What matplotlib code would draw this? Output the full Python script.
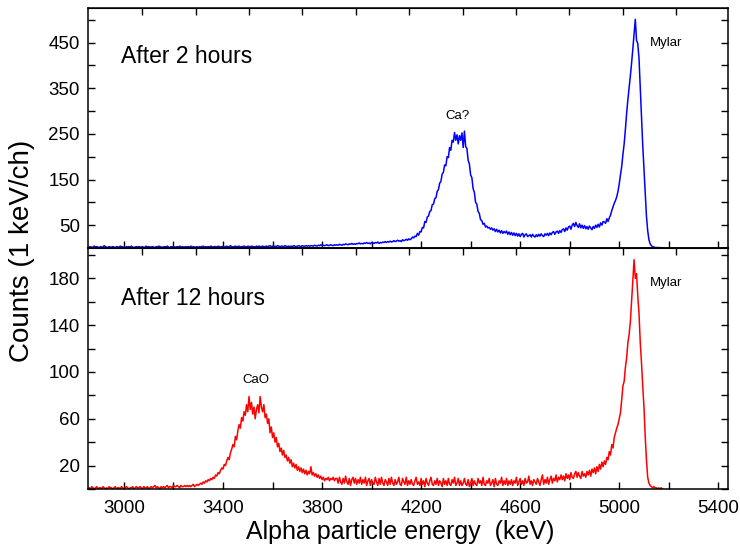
import numpy as np
import matplotlib
matplotlib.use("Agg")
import matplotlib.pyplot as plt
from matplotlib.ticker import MultipleLocator

plt.rcParams['font.family'] = ['Liberation Sans', 'DejaVu Sans']

# Spectra, 5 keV steps starting at 2860 keV
counts_2h = [
    2, 3, 1, 2, 4, 2, 3, 2, 1, 3, 2, 2, 5, 3, 2, 1, 3, 2, 2, 3,
    2, 1, 3, 2, 2, 4, 3, 2, 2, 1, 3, 2, 3, 2, 4, 2, 1, 2, 3, 2,
    3, 2, 2, 3, 1, 2, 4, 2, 3, 2, 2, 3, 2, 1, 3, 2, 4, 3, 2, 2,
    2, 3, 2, 4, 2, 1, 3, 2, 3, 2, 2, 3, 2, 4, 2, 3, 2, 2, 3, 2,
    3, 2, 4, 2, 3, 2, 2, 3, 1, 3, 2, 3, 4, 2, 3, 2, 3, 2, 4, 3,
    2, 3, 3, 2, 4, 3, 2, 3, 3, 2, 3, 4, 2, 3, 5, 3, 2, 3, 4, 3,
    3, 4, 2, 3, 3, 4, 3, 2, 4, 3, 3, 4, 3, 3, 2, 4, 3, 4, 3, 3,
    4, 3, 3, 4, 3, 4, 5, 3, 4, 3, 4, 3, 5, 4, 3, 4, 4, 3, 5, 4,
    3, 4, 3, 4, 3, 5, 4, 3, 4, 5, 4, 3, 5, 4, 4, 5, 4, 5, 4, 5,
    5, 4, 6, 5, 4, 6, 5, 7, 5, 6, 5, 6, 7, 5, 6, 7, 6, 5, 7, 6,
    7, 6, 8, 7, 6, 8, 7, 9, 8, 7, 9, 8, 10, 8, 9, 8, 10, 9, 11, 9,
    10, 9, 11, 10, 12, 10, 11, 9, 12, 11, 10, 12, 11, 13, 10, 12, 11, 13, 12, 14,
    12, 14, 13, 15, 13, 14, 16, 14, 15, 17, 15, 16, 14, 18, 16, 17, 19, 17, 20, 18,
    20, 24, 22, 26, 25, 32, 28, 36, 35, 45, 44, 58, 56, 68, 70, 80, 82, 95, 96, 108,
    110, 124, 128, 142, 146, 162, 166, 182, 180, 200, 198, 220, 214, 236, 232, 253, 236, 248, 228, 246,
    236, 252, 220, 256, 222, 218, 192, 184, 160, 154, 130, 122, 100, 96, 80, 76, 62, 60, 52, 54,
    46, 48, 44, 45, 41, 44, 39, 42, 36, 41, 35, 39, 33, 38, 32, 36, 33, 37, 30, 35,
    29, 34, 28, 33, 27, 32, 26, 31, 25, 30, 32, 24, 29, 31, 25, 27, 29, 24, 30, 26,
    24, 29, 25, 30, 26, 31, 27, 25, 31, 28, 32, 27, 33, 29, 34, 36, 30, 35, 37, 32,
    38, 34, 40, 42, 36, 44, 39, 46, 48, 41, 50, 54, 47, 56, 49, 45, 53, 44, 50, 43,
    49, 42, 47, 41, 48, 44, 40, 47, 43, 50, 45, 52, 46, 55, 50, 58, 57, 54, 64, 58,
    66, 72, 82, 90, 98, 104, 112, 124, 140, 160, 178, 205, 228, 260, 295, 325, 350, 377, 405, 436,
    470, 501, 455, 448, 415, 350, 280, 225, 172, 120, 70, 38, 18, 9, 5, 3, 2, 1, 1, 1,
    1, 0, 1, 0,
]

counts_12h = [
    1, 0, 2, 1, 0, 1, 2, 0, 1, 1, 0, 2, 1, 0, 1, 0, 2, 1, 1, 0,
    1, 2, 0, 1, 1, 0, 2, 1, 0, 1, 2, 1, 0, 1, 1, 2, 0, 1, 2, 1,
    1, 2, 1, 0, 2, 1, 1, 2, 0, 1, 2, 1, 2, 3, 1, 2, 1, 0, 2, 1,
    2, 1, 2, 3, 1, 2, 2, 1, 3, 2, 2, 3, 2, 1, 3, 2, 2, 3, 2, 3,
    2, 3, 2, 3, 4, 2, 3, 4, 3, 4, 5, 4, 6, 5, 7, 6, 8, 7, 9, 8,
    10, 9, 12, 11, 14, 13, 16, 18, 17, 21, 20, 24, 27, 25, 31, 34, 38, 36, 45, 42,
    50, 55, 52, 61, 58, 66, 63, 72, 66, 79, 68, 74, 64, 70, 60, 68, 72, 65, 79, 70,
    66, 72, 61, 64, 56, 60, 48, 53, 44, 48, 40, 44, 36, 39, 32, 35, 29, 33, 27, 29,
    24, 27, 22, 25, 19, 22, 18, 21, 16, 19, 15, 18, 14, 17, 13, 16, 12, 15, 13, 19,
    12, 14, 11, 13, 10, 12, 9, 11, 8, 10, 7, 9, 8, 10, 7, 9, 8, 10, 7, 9,
    9, 5, 10, 6, 4, 9, 5, 11, 6, 4, 9, 3, 8, 10, 5, 9, 4, 8, 5, 10,
    4, 8, 5, 10, 3, 7, 9, 3, 8, 5, 4, 10, 6, 3, 9, 4, 10, 5, 3, 8,
    6, 3, 9, 4, 10, 5, 3, 8, 4, 6, 10, 4, 3, 9, 6, 4, 10, 3, 7, 4,
    8, 4, 3, 7, 10, 4, 6, 3, 9, 4, 7, 2, 9, 5, 3, 7, 10, 4, 3, 7,
    4, 9, 3, 7, 5, 2, 9, 4, 7, 3, 9, 4, 3, 8, 5, 10, 3, 5, 9, 3,
    7, 3, 5, 9, 4, 3, 8, 2, 5, 9, 3, 7, 4, 3, 9, 5, 7, 3, 10, 4,
    3, 7, 5, 9, 3, 5, 8, 2, 9, 4, 3, 7, 5, 10, 3, 7, 4, 9, 3, 7,
    4, 8, 3, 7, 5, 10, 3, 6, 9, 4, 7, 3, 9, 5, 6, 11, 4, 7, 3, 8,
    6, 4, 9, 6, 3, 8, 12, 4, 8, 5, 10, 4, 8, 11, 5, 9, 7, 12, 6, 10,
    8, 12, 8, 11, 7, 13, 9, 12, 8, 14, 10, 9, 13, 15, 10, 14, 11, 9, 15, 11,
    13, 10, 15, 12, 16, 11, 17, 14, 18, 13, 19, 15, 21, 17, 23, 19, 24, 21, 27, 25,
    32, 29, 38, 35, 44, 48, 52, 55, 60, 65, 76, 88, 92, 104, 112, 125, 132, 143, 160, 178,
    196, 180, 184, 165, 150, 125, 108, 88, 70, 45, 25, 10, 5, 3, 2, 1, 2, 1, 1, 0,
    1, 0, 1, 0,
]

energy_2h = np.arange(2860, 2860 + 5 * len(counts_2h), 5)
energy_12h = np.arange(2860, 2860 + 5 * len(counts_12h), 5)

# Ticks on the upper edge of each panel (channel scale, no labels)
top_ticks = [3073, 3289, 3505, 3720, 3936, 4152, 4368, 4584, 4799, 5015, 5231]

fig = plt.figure(figsize=(7.4, 5.45), dpi=100)
ax1 = fig.add_axes([0.119, 0.545, 0.865, 0.4405])
ax2 = fig.add_axes([0.119, 0.1028, 0.865, 0.4422])

ax1.plot(energy_2h, counts_2h, color='#0000ff', linewidth=1.1)
ax2.plot(energy_12h, counts_12h, color='#ff0000', linewidth=1.1)

for ax in (ax1, ax2):
    ax.set_xlim(2855, 5440)
    ax.set_xticks(np.arange(3000, 5401, 400))
    ax.xaxis.set_minor_locator(MultipleLocator(200))
    ax.tick_params(axis='both', which='both', direction='in', length=5, width=1,
                   top=False, right=True, labelsize=13.5)
    ax.tick_params(axis='x', pad=8)
    ax.tick_params(axis='y', pad=6)
    for sp in ax.spines.values():
        sp.set_linewidth(1.1)
    sec = ax.secondary_xaxis('top')
    sec.set_xticks(top_ticks)
    sec.tick_params(direction='in', length=5, width=1, labeltop=False)

# Top panel
ax1.set_ylim(0, 526)
ax1.set_yticks([50, 150, 250, 350, 450])
ax1.yaxis.set_minor_locator(MultipleLocator(50))
ax1.tick_params(axis='x', labelbottom=False)
ax1.text(0.052, 0.796, "After 2 hours", transform=ax1.transAxes, fontsize=16.5,
         ha='left', va='center')
ax1.text(4345, 290, "Ca?", fontsize=9.5, ha='center', va='center')
ax1.text(5125, 450, "Mylar", fontsize=9.5, ha='left', va='center')

# Bottom panel
ax2.set_ylim(0, 206)
ax2.set_yticks([20, 60, 100, 140, 180])
ax2.yaxis.set_minor_locator(MultipleLocator(20))
ax2.text(0.052, 0.79, "After 12 hours", transform=ax2.transAxes, fontsize=16.5,
         ha='left', va='center')
ax2.text(3533, 93, "CaO", fontsize=9.5, ha='center', va='center')
ax2.text(5125, 176, "Mylar", fontsize=9.5, ha='left', va='center')

fig.text(0.03, 0.539, "Counts (1 keV/ch)", rotation=90, fontsize=20,
         ha='center', va='center')
fig.text(0.541, 1 - 539 / 545, "Alpha particle energy  (keV)", fontsize=18,
         ha='center', va='baseline')

fig.savefig('out.png', dpi=100)
